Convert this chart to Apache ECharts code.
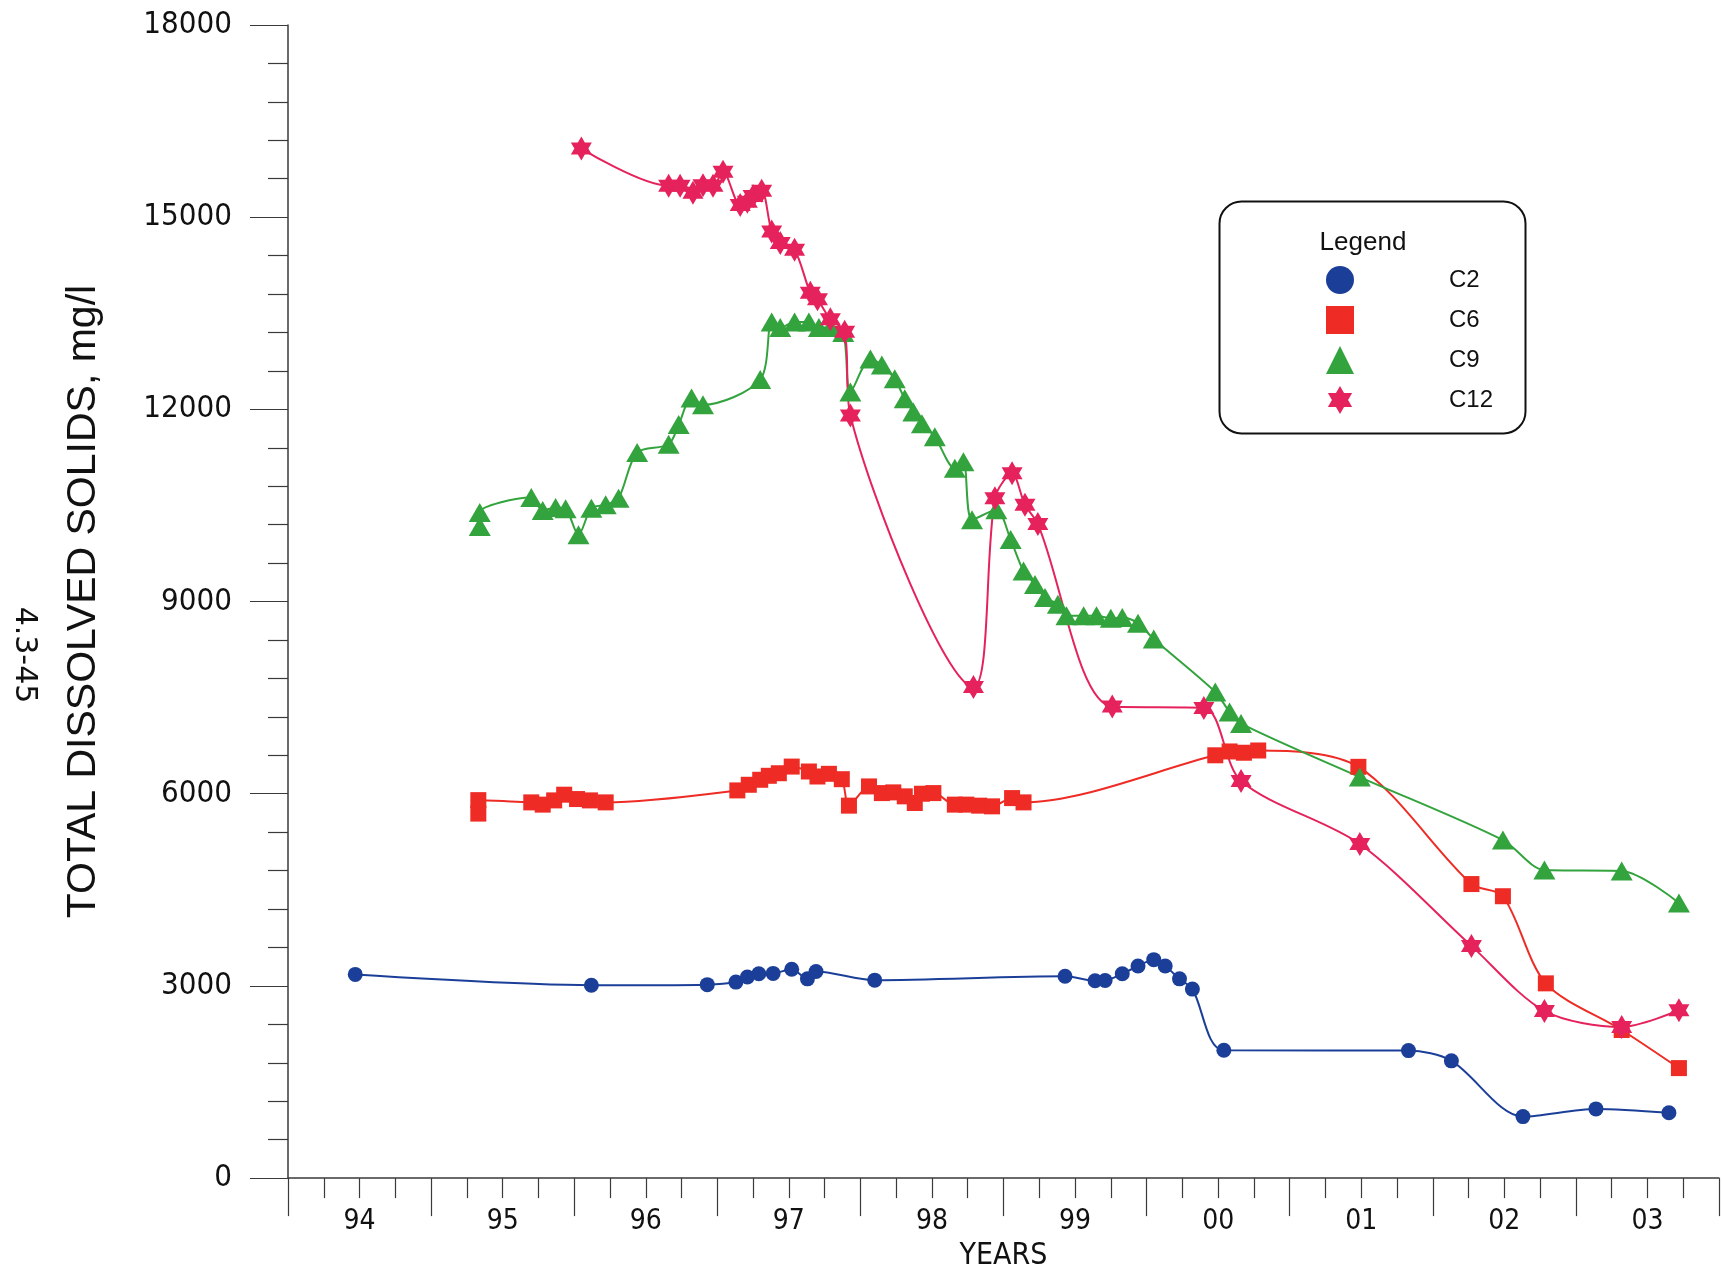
<!DOCTYPE html>
<html><head><meta charset="utf-8">
<script src="https://cdn.jsdelivr.net/npm/echarts@6/dist/echarts.min.js"></script>
<style>html,body{margin:0;padding:0;background:#fff}#c{width:1722px;height:1276px}</style>
</head><body><div id="c"></div>
<script>
// ---- data (decimal years, mg/l) ----
const c2Years  = [1994.47,1996.12,1996.93,1997.13,1997.21,1997.29,1997.39,1997.52,1997.63,1997.69,1998.10,1999.43,1999.64,1999.71,1999.83,1999.94,2000.05,2000.13,2000.23,2000.32,2000.54,2001.83,2002.13,2002.63,2003.14,2003.65];
const c2Values = [3180,3010,3020,3060,3140,3190,3195,3260,3110,3225,3090,3150,3080,3085,3190,3310,3410,3310,3110,2950,1995,1990,1830,960,1080,1020];

const c6Years  = [1995.33,1995.33,1995.70,1995.78,1995.86,1995.93,1996.02,1996.11,1996.22,1997.14,1997.22,1997.30,1997.36,1997.43,1997.52,1997.64,1997.70,1997.78,1997.87,1997.92,1998.06,1998.15,1998.23,1998.31,1998.38,1998.43,1998.51,1998.66,1998.74,1998.83,1998.92,1999.06,1999.14,2000.48,2000.58,2000.68,2000.78,2001.48,2002.27,2002.49,2002.79,2003.32,2003.72];
const c6Values = [5690,5900,5865,5830,5896,5985,5917,5896,5865,6052,6140,6218,6280,6320,6424,6347,6269,6311,6227,5814,6114,6010,6021,5959,5855,6000,6010,5830,5830,5814,5803,5932,5865,6600,6660,6640,6675,6420,4590,4400,3040,2312,1717];

const c9Years  = [1995.34,1995.34,1995.70,1995.78,1995.87,1995.94,1996.03,1996.12,1996.22,1996.31,1996.44,1996.66,1996.73,1996.82,1996.90,1997.30,1997.38,1997.44,1997.54,1997.64,1997.71,1997.79,1997.88,1997.93,1998.07,1998.15,1998.24,1998.31,1998.37,1998.43,1998.52,1998.66,1998.72,1998.78,1998.95,1999.05,1999.14,1999.22,1999.29,1999.38,1999.44,1999.56,1999.65,1999.75,1999.83,1999.94,2000.05,2000.48,2000.58,2000.66,2001.49,2002.49,2002.78,2003.32,2003.72];
const c9Values = [10170,10390,10624,10423,10469,10447,10044,10458,10510,10614,11327,11456,11762,12176,12072,12465,13365,13278,13365,13365,13278,13278,13200,12270,12786,12693,12476,12165,11959,11777,11571,11079,11183,10277,10432,9967,9476,9268,9062,8958,8778,8778,8778,8740,8750,8660,8415,7588,7277,7096,6260,5276,4810,4795,4294];

const c12Years  = [1996.05,1996.66,1996.74,1996.83,1996.90,1996.97,1997.04,1997.16,1997.21,1997.25,1997.31,1997.38,1997.44,1997.54,1997.65,1997.70,1997.79,1997.89,1997.93,1998.79,1998.94,1999.06,1999.15,1999.24,1999.76,2000.40,2000.66,2001.49,2002.27,2002.78,2003.32,2003.72];
const c12Values = [16071,15490,15490,15382,15500,15490,15708,15191,15242,15330,15413,14777,14597,14493,13821,13717,13407,13210,11906,7665,10613,11001,10510,10210,7360,7340,6200,5215,3625,2610,2360,2620];

const xTickLabels = ['94','95','96','97','98','99','00','01','02','03'];

// ---- styling ----
const colors = {C2:'#1B3F98', C6:'#EE2B24', C9:'#33A33D', C12:'#E5225C'};
const starPath = 'path://M100 0 L128.87 50 L186.6 50 L157.74 100 L186.6 150 L128.87 150 L100 200 L71.13 150 L13.4 150 L42.26 100 L13.4 50 L71.13 50 Z';
const axisColor = '#3a3a3a';

function pairs(xs, ys){ return xs.map((x,i)=>[x, ys[i]]); }

function lineSeries(name, xs, ys, symbol, size){
  return {
    name, type:'line', data:pairs(xs, ys),
    smooth:0.3,
    symbol, symbolSize:size, showAllSymbol:true,
    lineStyle:{color:colors[name], width:2},
    itemStyle:{color:colors[name]},
    emphasis:{disabled:true}
  };
}

const chart = echarts.init(document.getElementById('c'), null, {renderer:'canvas'});
chart.setOption({
  animation:false,
  backgroundColor:'#fff',
  grid:{left:288, right:3, top:25, bottom:89, containLabel:false},
  xAxis:{
    type:'value', min:1994, max:2004, interval:1,
    axisLine:{show:true, onZero:false, lineStyle:{color:axisColor, width:1.5}},
    axisTick:{show:true, length:38, lineStyle:{color:axisColor, width:1.2}},
    minorTick:{show:true, splitNumber:4, length:20, lineStyle:{color:axisColor, width:1.2}},
    splitLine:{show:false}, minorSplitLine:{show:false},
    axisLabel:{
      customValues: xTickLabels.map((_,i)=>1994.5+i),
      formatter:(v)=>xTickLabels[Math.round(v-1994.5)],
      fontFamily:'Liberation Sans Narrow, DejaVu Sans Condensed, DejaVu Sans', fontSize:28, color:'#111', margin:30
    },
    name:'YEARS', nameLocation:'middle', nameGap:58,
    nameTextStyle:{fontFamily:'Liberation Sans Narrow, DejaVu Sans Condensed, DejaVu Sans', fontSize:30, color:'#111'}
  },
  yAxis:{
    type:'value', min:0, max:18000, interval:3000,
    axisLine:{show:true, lineStyle:{color:axisColor, width:1.5}},
    axisTick:{show:true, length:38, lineStyle:{color:axisColor, width:1.2}},
    minorTick:{show:true, splitNumber:5, length:20, lineStyle:{color:axisColor, width:1.2}},
    splitLine:{show:false}, minorSplitLine:{show:false},
    axisLabel:{formatter:(v)=>String(v), fontFamily:'DejaVu Sans Condensed, DejaVu Sans', fontSize:31, color:'#111', margin:56},
    name:'TOTAL DISSOLVED SOLIDS, mg/l', nameLocation:'middle', nameGap:184, nameRotate:90,
    nameTextStyle:{fontFamily:'Liberation Sans', fontSize:41, color:'#111'}
  },
  legend:{
    orient:'vertical', left:1321, top:261, itemWidth:28, itemHeight:28, itemGap:12,
    selectedMode:false,
    data:[
      {name:'C2', icon:'circle'},
      {name:'C6', icon:'rect'},
      {name:'C9', icon:'triangle'},
      {name:'C12', icon:starPath}
    ],
    textStyle:{fontFamily:'Liberation Sans', fontSize:24, color:'#111', padding:[0,0,0,90]}
  },
  graphic:[
    {type:'rect', left:1217, top:199, shape:{width:306, height:232, r:22}, style:{fill:'none', stroke:'#111', lineWidth:2}, z:-1},
    {type:'text', x:1363, y:243, style:{text:'Legend', fontFamily:'Liberation Sans', fontSize:26, fill:'#111', align:'center', verticalAlign:'middle'}},
    {type:'text', x:24, y:655, rotation:-Math.PI/2, style:{text:'4.3-45', fontFamily:'DejaVu Sans', fontSize:30, fill:'#111', align:'center', verticalAlign:'middle'}}
  ],
  series:[
    lineSeries('C2', c2Years, c2Values, 'circle', 15),
    lineSeries('C6', c6Years, c6Values, 'rect', 16),
    lineSeries('C9', c9Years, c9Values, 'triangle', [22,19]),
    lineSeries('C12', c12Years, c12Values, starPath, [21,24])
  ]
});
</script></body></html>
